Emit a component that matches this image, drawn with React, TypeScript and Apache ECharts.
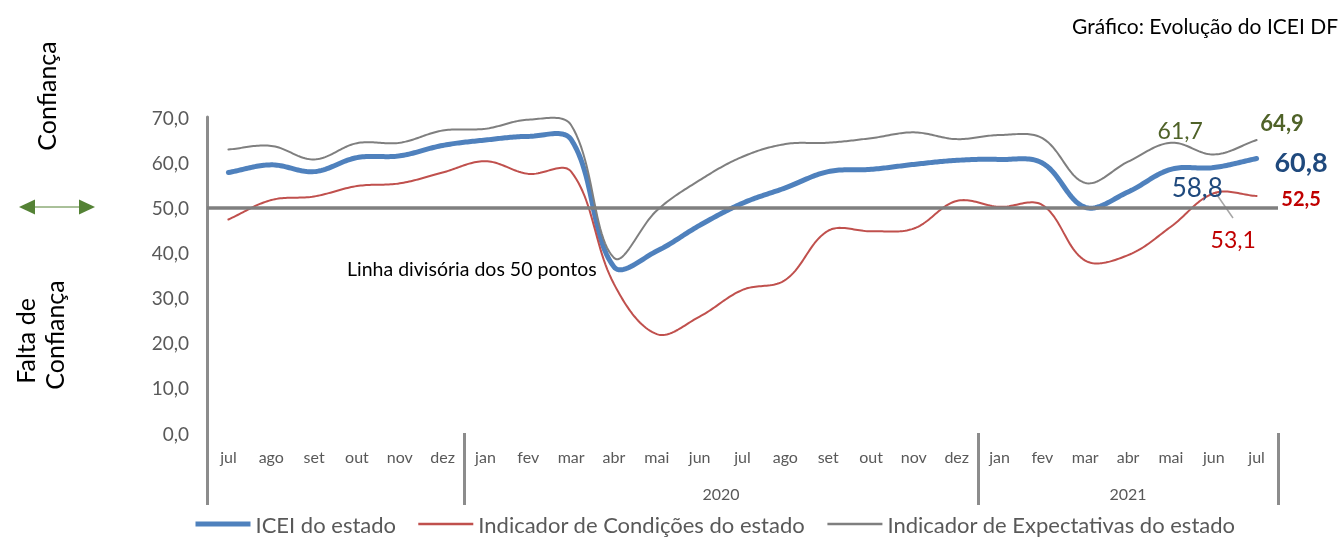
import React, { useEffect, useRef } from "react";
import * as echarts from "echarts";

const MONTHS = ["jul","ago","set","out","nov","dez","jan","fev","mar","abr","mai","jun","jul","ago","set","out","nov","dez","jan","fev","mar","abr","mai","jun","jul"];
const YEAR_GROUPS = [
  { name: "", start: 0, end: 6 },
  { name: "2020", start: 6, end: 18 },
  { name: "2021", start: 18, end: 25 },
];
const ICEI = [57.7,59.4,57.9,61.0,61.4,63.7,64.9,65.7,65.0,36.8,40.3,46.0,50.9,54.3,57.9,58.4,59.5,60.4,60.6,59.8,50.0,53.4,58.4,58.8,60.8];
const CONDICOES = [47.3,51.6,52.4,54.7,55.3,57.7,60.2,57.4,57.9,33.0,21.9,25.8,31.7,33.9,44.8,44.7,45.3,51.4,50.1,50.5,38.2,39.4,45.7,53.1,52.5];
const EXPECTATIVAS = [62.8,63.6,60.6,64.2,64.3,67.0,67.4,69.4,68.2,38.8,49.3,56.0,61.2,64.0,64.3,65.3,66.6,65.1,66.0,65.3,55.4,60.1,64.3,61.7,64.9];
const Y_MIN = 0;
const Y_MAX = 70;
const Y_STEP = 10;
const DIVISORIA = 50;

const FONT = 'Lato, "Noto Sans", sans-serif';
const fmt = (v: number) => v.toFixed(1).replace(".", ",");

function labeled(values: number[], labels: Record<number, any>) {
  return values.map((v, i) =>
    labels[i]
      ? {
          value: v,
          symbol: "circle",
          symbolSize: 1,
          label: {
            show: true,
            formatter: (p: any) => fmt(p.value),
            align: "center",
            verticalAlign: "middle",
            fontFamily: FONT,
            ...labels[i],
          },
        }
      : v
  );
}

// Smoothed line (cubic Bezier, tangent from neighbours weighted by segment length), through the axis scale
function splineSeries(id: string, values: number[], color: string, width: number, z: number) {
  return {
    id,
    type: "custom",
    silent: true,
    z,
    data: [[0, values[0]]],
    renderItem: (_params: any, api: any) => {
      const pts = values.map((v, i) => api.coord([i, v]));
      const dist = (a: number[], b: number[]) => Math.hypot(a[0] - b[0], a[1] - b[1]);
      const F = 0.36;
      const cpOut = (i: number) => {
        const p1 = pts[i];
        const p0 = pts[i - 1] || p1;
        const p2 = pts[i + 1] || p1;
        const d0 = dist(p0, p1), d1 = dist(p1, p2);
        const r = d0 + d1 > 0 ? d1 / (d0 + d1) : 0.5;
        return [p1[0] + (p2[0] - p0[0]) * F * r, p1[1] + (p2[1] - p0[1]) * F * r];
      };
      const cpIn = (i: number) => {
        const p1 = pts[i];
        const p0 = pts[i - 1] || p1;
        const p2 = pts[i + 1] || p1;
        const d0 = dist(p0, p1), d1 = dist(p1, p2);
        const r = d0 + d1 > 0 ? d0 / (d0 + d1) : 0.5;
        return [p1[0] - (p2[0] - p0[0]) * F * r, p1[1] - (p2[1] - p0[1]) * F * r];
      };
      const out: number[][] = [pts[0]];
      const STEPS = 24;
      for (let i = 0; i < pts.length - 1; i++) {
        const p1 = pts[i];
        const p2 = pts[i + 1];
        const c1 = cpOut(i);
        const c2 = cpIn(i + 1);
        for (let s = 1; s <= STEPS; s++) {
          const t = s / STEPS;
          const u = 1 - t;
          const a = u * u * u, b = 3 * u * u * t, c = 3 * u * t * t, d = t * t * t;
          out.push([
            a * p1[0] + b * c1[0] + c * c2[0] + d * p2[0],
            a * p1[1] + b * c1[1] + c * c2[1] + d * p2[1],
          ]);
        }
      }
      return {
        type: "polyline",
        shape: { points: out },
        style: { stroke: color, lineWidth: width, fill: "none", lineJoin: "round", lineCap: "round" },
      };
    },
  };
}

export default function App() {
  const ref = useRef<HTMLDivElement>(null);
  useEffect(() => {
    if (!ref.current) return;
    const chart = echarts.init(ref.current, undefined, { renderer: "svg" });
    const last = MONTHS.length - 1;
    const prev = last - 1;
    const boundaries = Array.from(new Set(YEAR_GROUPS.flatMap((g) => [g.start, g.end])));
    const labelVals = YEAR_GROUPS.filter((g) => g.name).map((g) => (g.start + g.end) / 2);
    const labelMap: Record<string, string> = {};
    YEAR_GROUPS.forEach((g) => {
      if (g.name) labelMap[String((g.start + g.end) / 2)] = g.name;
    });

    const hiddenLine = { opacity: 0 };

    chart.setOption({
      animation: false,
      textStyle: { fontFamily: FONT },
      grid: { left: 207, right: 65, top: 117, bottom: 106, containLabel: false },
      legend: {
        data: [
          { name: "ICEI do estado", lineStyle: { opacity: 1, width: 5, color: "#4F81BD" } },
          { name: "Indicador de Condições do estado", lineStyle: { opacity: 1, width: 2.5, color: "#C0504D" } },
          { name: "Indicador de Expectativas do estado", lineStyle: { opacity: 1, width: 2.5, color: "#7F7F7F" } },
        ],
        left: 193,
        top: 513,
        padding: 0,
        itemWidth: 55,
        itemHeight: 14,
        itemGap: 21,
        itemStyle: { opacity: 0 },
        textStyle: { fontSize: 22, color: "#595959", fontFamily: FONT },
      },
      xAxis: [
        {
          type: "category",
          data: MONTHS,
          boundaryGap: true,
          axisLine: { show: false },
          axisTick: { show: false },
          axisLabel: { interval: 0, fontSize: 16, color: "#595959", margin: 15, fontFamily: FONT },
          splitLine: { show: false },
        },
        {
          type: "value",
          min: 0,
          max: MONTHS.length,
          position: "bottom",
          offset: 0,
          axisLine: { show: false },
          splitLine: { show: false },
          axisTick: {
            show: true,
            customValues: boundaries,
            length: 72,
            lineStyle: { color: "#8C8C8C", width: 3 },
          },
          axisLabel: {
            show: true,
            customValues: labelVals,
            formatter: (v: number) => labelMap[String(v)] || "",
            margin: 52,
            fontSize: 16,
            color: "#595959",
            fontFamily: FONT,
          },
        },
      ],
      yAxis: {
        type: "value",
        min: Y_MIN,
        max: Y_MAX,
        interval: Y_STEP,
        axisLine: { show: true, lineStyle: { color: "#8C8C8C", width: 3 } },
        axisTick: { show: false },
        splitLine: { show: false },
        axisLabel: { formatter: (v: number) => fmt(v), fontSize: 19, color: "#595959", margin: 18, fontFamily: FONT },
      },
      series: [
        {
          name: "_divisoria",
          type: "line",
          data: MONTHS.map(() => null),
          symbol: "none",
          silent: true,
          z: 1,
          markLine: {
            silent: true,
            symbol: ["none", "none"],
            label: { show: false },
            lineStyle: { color: "#7F7F7F", width: 3.5, type: "solid" },
            data: [{ yAxis: DIVISORIA }],
          },
        },
        splineSeries("icei_curve", ICEI, "#4F81BD", 5, 3),
        splineSeries("cond_curve", CONDICOES, "#C0504D", 2, 4),
        splineSeries("exp_curve", EXPECTATIVAS, "#7F7F7F", 2, 5),
        {
          name: "ICEI do estado",
          type: "line",
          symbol: "none",
          silent: true,
          z: 6,
          lineStyle: { color: "#4F81BD", width: 5, ...hiddenLine },
          itemStyle: { color: "#4F81BD" },
          data: labeled(ICEI, {
            [prev]: { position: [-16, 20], fontSize: 26, color: "#1F497D" },
            [last]: { position: [45, 3], fontSize: 27, fontWeight: "bold", color: "#1F497D" },
          }),
        },
        {
          name: "Indicador de Condições do estado",
          type: "line",
          symbol: "none",
          silent: true,
          z: 6,
          lineStyle: { color: "#C0504D", width: 2, ...hiddenLine },
          itemStyle: { color: "#C0504D" },
          data: labeled(CONDICOES, {
            [prev]: { position: [20, 46], fontSize: 23, color: "#C00000" },
            [last]: { position: [45, 2], fontSize: 20, fontWeight: "bold", color: "#C00000" },
          }),
        },
        {
          name: "Indicador de Expectativas do estado",
          type: "line",
          symbol: "none",
          silent: true,
          z: 6,
          lineStyle: { color: "#7F7F7F", width: 2, ...hiddenLine },
          itemStyle: { color: "#7F7F7F" },
          data: labeled(EXPECTATIVAS, {
            [prev]: { position: [-33, -24], fontSize: 23, color: "#4F6228" },
            [last]: { position: [26, -17], fontSize: 22, fontWeight: "bold", color: "#4F6228" },
          }),
        },
      ],
      graphic: [
        {
          type: "text",
          left: 1072,
          top: 15,
          style: { text: "Gráfico: Evolução do ICEI DF", fontSize: 21, fill: "#000", fontFamily: FONT },
        },
        {
          type: "text",
          x: 46,
          y: 96,
          rotation: Math.PI / 2,
          style: { text: "Confiança", fontSize: 25, fill: "#000", align: "center", verticalAlign: "middle", fontFamily: FONT },
        },
        {
          type: "text",
          x: 25,
          y: 341,
          rotation: Math.PI / 2,
          style: { text: "Falta de", fontSize: 25, fill: "#000", align: "center", verticalAlign: "middle", fontFamily: FONT },
        },
        {
          type: "text",
          x: 54,
          y: 335,
          rotation: Math.PI / 2,
          style: { text: "Confiança", fontSize: 25, fill: "#000", align: "center", verticalAlign: "middle", fontFamily: FONT },
        },
        {
          type: "line",
          shape: { x1: 30, y1: 207, x2: 84, y2: 207 },
          style: { stroke: "#548235", lineWidth: 1 },
        },
        {
          type: "polygon",
          shape: { points: [[19, 207], [35, 199.5], [35, 214.5]] },
          style: { fill: "#548235" },
        },
        {
          type: "polygon",
          shape: { points: [[95, 207], [79, 199.5], [79, 214.5]] },
          style: { fill: "#548235" },
        },
        {
          type: "text",
          x: 347,
          y: 268,
          style: { text: "Linha divisória dos 50 pontos", fontSize: 19.5, fill: "#000", verticalAlign: "middle", fontFamily: FONT },
        },
        {
          type: "line",
          shape: { x1: 1215, y1: 192, x2: 1233, y2: 218 },
          style: { stroke: "#A6A6A6", lineWidth: 1.5 },
        },
      ],
    });
    return () => chart.dispose();
  }, []);
  return <div ref={ref} style={{ position: "fixed", left: 0, top: 0, width: 1343, height: 539 }} />;
}
